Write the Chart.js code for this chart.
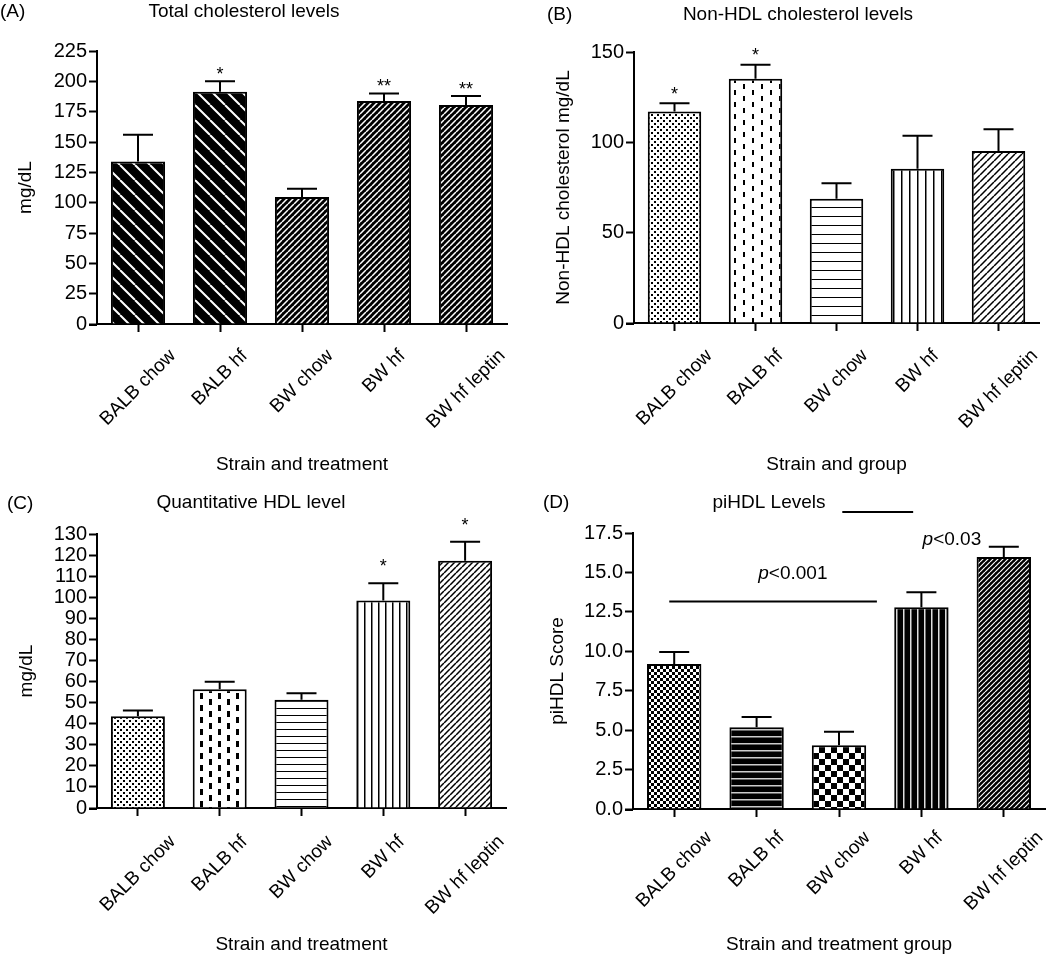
<!DOCTYPE html>
<html>
<head>
<meta charset="utf-8">
<script src="https://cdn.jsdelivr.net/npm/chart.js@4.4.1/dist/chart.umd.min.js"></script>
<style>
body{margin:0;background:#fff;width:1050px;height:955px;overflow:hidden;position:relative}
canvas{position:absolute}
</style>
</head>
<body>
<canvas id="cA" style="left:0;top:0;width:525px;height:477px" width="525" height="477"></canvas>
<canvas id="cB" style="left:525px;top:0;width:525px;height:477px" width="525" height="477"></canvas>
<canvas id="cC" style="left:0;top:477px;width:525px;height:478px" width="525" height="478"></canvas>
<canvas id="cD" style="left:525px;top:477px;width:525px;height:478px" width="525" height="478"></canvas>
<script>
// 4 panneaux : cholesterol total, non-HDL, HDL, piHDL

var groups=["BALB chow","BALB hf","BW chow","BW hf","BW hf leptin"]

var totalChol=[134,191.5,104.7,183.8,180.5]
var totalCholErr=[22,8.5,6.8,6.2,7.5]
var totalCholStars=["","*","","**","**"]

var nonHdl=[117,135.2,68.8,85.4,95.2]
var nonHdlErr=[4.7,7.8,8.5,18.3,12]
var nonHdlStars=["*","*","","",""]

var hdl=[43.5,56.3,51.4,98.5,117.3]
var hdlErr=[2.7,3.6,3.0,8.1,9.0]
var hdlStars=["","","","*","*"]

var piHdl=[9.2,5.18,4.04,12.8,15.98]
var piHdlErr=[0.76,0.66,0.86,0.94,0.65]
var piHdlStars=["","","","",""]

var sigLines=[[-0.06,2.46,13.16],[2.04,2.9,18.83]]   // [de, a, valeur]
var sigTexts=[["<0.001",1.44,14.9],["<0.03",3.37,17.06]]  // [texte, position, valeur]

var FONT="'Liberation Sans', Arial, Helvetica, sans-serif"
Chart.defaults.font.family=FONT
Chart.defaults.color="#000"

// motifs de remplissage
function tile(w,h,draw){
    var c=document.createElement("canvas")
    c.width=w;c.height=h
    var g=c.getContext("2d")
    draw(g,w,h)
    return g.createPattern(c,"repeat")
}
function diag(bg,fg,s,lw,back){
    return tile(s,s,function(g){
        g.fillStyle=bg;g.fillRect(0,0,s,s)
        g.strokeStyle=fg;g.lineWidth=lw;g.beginPath()
        for(var k=-1;k<=1;k++){
            if(back){g.moveTo(k*s,0);g.lineTo(k*s+s,s)}
            else{g.moveTo(k*s,s);g.lineTo(k*s+s,0)}
        }
        g.stroke()
    })
}
function hlines(bg,fg,s,lw){
    return tile(4,s,function(g,w,h){
        g.fillStyle=bg;g.fillRect(0,0,w,h)
        g.fillStyle=fg;g.fillRect(0,0,w,lw)
    })
}
function vlines(bg,fg,s,lw){
    return tile(s,4,function(g,w,h){
        g.fillStyle=bg;g.fillRect(0,0,w,h)
        g.fillStyle=fg;g.fillRect(0,0,lw,h)
    })
}
function dots(){
    return tile(6,6,function(g){
        g.fillStyle="#fff";g.fillRect(0,0,6,6)
        g.fillStyle="#000";g.fillRect(0,0,2,2);g.fillRect(3,3,2,2)
    })
}
function dashes(dw,dh){
    return tile(18,12,function(g){
        g.fillStyle="#fff";g.fillRect(0,0,18,12)
        g.fillStyle="#000";g.fillRect(2,0,dw,dh);g.fillRect(11,6,dw,dh)
    })
}
function checker(s){
    return tile(2*s,2*s,function(g){
        g.fillStyle="#fff";g.fillRect(0,0,2*s,2*s)
        g.fillStyle="#000";g.fillRect(0,0,s,s);g.fillRect(s,s,s,s)
    })
}

var fillsA=[diag("#000","#fff",15,2,true),diag("#000","#fff",15,2,true),diag("#000","#fff",6,1.5,false),diag("#000","#fff",6,1.5,false),diag("#000","#fff",6,1.5,false)]
var fillsB=[dots(),dashes(2,5),hlines("#fff","#000",9,1),vlines("#fff","#000",8,1.5),diag("#fff","#000",7,1.5,false)]
var fillsC=[dots(),dashes(3,6),hlines("#fff","#000",7,1),vlines("#fff","#000",7,1.5),diag("#fff","#000",6,1.5,false)]
var fillsD=[checker(3),hlines("#000","#ccc",7,1.5),checker(6),vlines("#000","#ddd",7,1.5),diag("#000","#fff",5,1.2,false)]

function extras(o){
    return {
        id:"extras",
        afterDatasetsDraw:function(chart){
            var ctx=chart.ctx,ys=chart.scales.y
            var vals=chart.data.datasets[0].data
            ctx.save()
            ctx.strokeStyle="#000";ctx.lineWidth=2
            chart.getDatasetMeta(0).data.forEach(function(bar,i){
                var top=ys.getPixelForValue(vals[i]+o.err[i])
                ctx.beginPath()
                ctx.moveTo(bar.x,bar.y);ctx.lineTo(bar.x,top)
                ctx.moveTo(bar.x-15,top);ctx.lineTo(bar.x+15,top)
                ctx.stroke()
                if(o.stars[i]){
                    ctx.font="18px "+FONT;ctx.textAlign="center";ctx.textBaseline="alphabetic";ctx.fillStyle="#000"
                    ctx.fillText(o.stars[i],bar.x,top-o.starGap+10)
                }
            })
            ctx.restore()
        },
        afterDraw:function(chart){
            var ctx=chart.ctx,xs=chart.scales.x,ys=chart.scales.y,a=chart.chartArea
            ctx.save()
            ctx.fillStyle="#000";ctx.strokeStyle="#000";ctx.lineWidth=2
            // prolongement de l'axe x a gauche
            ctx.beginPath();ctx.moveTo(a.left-8,Math.round(a.bottom)+1);ctx.lineTo(a.left,Math.round(a.bottom)+1);ctx.stroke()
            // etiquettes x a 45 degres
            ctx.font="19px "+FONT
            chart.data.labels.forEach(function(lab,i){
                var x=xs.getPixelForTick(i)
                var w=ctx.measureText(lab).width
                var half=(w+14)*Math.SQRT1_2/2
                ctx.save()
                ctx.translate(x,a.bottom+o.labelGap+half)
                ctx.rotate(-Math.PI/4)
                ctx.textAlign="center";ctx.textBaseline="middle"
                ctx.fillText(lab,0,0)
                ctx.restore()
            })
            // lettre et titre du panneau
            ctx.textBaseline="middle"
            ctx.textAlign="left";ctx.fillText(o.letter,o.letterX,o.letterY)
            ctx.textAlign="center";ctx.fillText(o.title,o.titleX,o.titleY)
            // significativite (panneau D)
            if(o.sig){
                sigLines.forEach(function(l){
                    var y=ys.getPixelForValue(l[2])
                    ctx.beginPath();ctx.moveTo(xs.getPixelForValue(l[0]),y);ctx.lineTo(xs.getPixelForValue(l[1]),y);ctx.stroke()
                })
                sigTexts.forEach(function(t){
                    var cx=xs.getPixelForValue(t[1]),y=ys.getPixelForValue(t[2])
                    ctx.font="italic 19px "+FONT;var wp=ctx.measureText("p").width
                    ctx.font="19px "+FONT;var wr=ctx.measureText(t[0]).width
                    var x0=cx-(wp+wr)/2
                    ctx.textAlign="left"
                    ctx.font="italic 19px "+FONT;ctx.fillText("p",x0,y)
                    ctx.font="19px "+FONT;ctx.fillText(t[0],x0+wp,y)
                })
            }
            ctx.restore()
        }
    }
}

function panel(id,values,fills,o){
    var cv=document.getElementById(id)
    return new Chart(cv,{
        type:"bar",
        data:{
            labels:groups,
            datasets:[{data:values,backgroundColor:fills,borderColor:"#000",borderWidth:2,barPercentage:0.66,categoryPercentage:1}]
        },
        options:{
            responsive:false,
            animation:false,
            events:[],
            layout:{padding:{top:o.area[1],right:cv.width-o.area[2],left:0,bottom:0}},
            plugins:{legend:{display:false},tooltip:{enabled:false}},
            scales:{
                x:{
                    grid:{offset:false,drawOnChartArea:false,tickLength:8,tickWidth:2,tickColor:"#000"},
                    border:{color:"#000",width:2},
                    ticks:{display:false},
                    title:{display:true,text:o.xTitle,color:"#000",font:{size:19,lineHeight:1},padding:{top:0,bottom:o.xTitlePad}},
                    afterFit:function(s){s.height=cv.height-o.area[3]}
                },
                y:{
                    min:0,max:o.max,
                    grid:{drawOnChartArea:false,tickLength:8,tickWidth:2,tickColor:"#000"},
                    border:{color:"#000",width:2},
                    ticks:{stepSize:o.step,autoSkip:false,maxTicksLimit:40,padding:2,color:"#000",font:{size:20,lineHeight:1},
                        callback:function(v){return o.dec?v.toFixed(1):v}},
                    title:{display:true,text:o.yTitle,color:"#000",font:{size:19},padding:{top:o.yTitlePad,bottom:0}},
                    afterFit:function(s){s.width=o.area[0]}
                }
            }
        },
        plugins:[extras(o)]
    })
}

panel("cA",totalChol,fillsA,{area:[97,51,507,324],max:225,step:25,yTitle:"mg/dL",yTitlePad:14.6,xTitle:"Strain and treatment",xTitlePad:2.5,
    err:totalCholErr,stars:totalCholStars,starGap:11,labelGap:24,letter:"(A)",letterX:0,letterY:12,title:"Total cholesterol levels",titleX:244,titleY:12})
panel("cB",nonHdl,fillsB,{area:[109,52,514,323],max:150,step:50,yTitle:"Non-HDL cholesterol mg/dL",yTitlePad:27.6,xTitle:"Strain and group",xTitlePad:2.5,
    err:nonHdlErr,stars:nonHdlStars,starGap:13.5,labelGap:25,letter:"(B)",letterX:22,letterY:15,title:"Non-HDL cholesterol levels",titleX:273,titleY:15})
panel("cC",hdl,fillsC,{area:[97,57,506,331],max:130,step:10,yTitle:"mg/dL",yTitlePad:15.6,xTitle:"Strain and treatment",xTitlePad:0.5,
    err:hdlErr,stars:hdlStars,starGap:21,labelGap:26,letter:"(C)",letterX:7,letterY:27,title:"Quantitative HDL level",titleX:251,titleY:26})
panel("cD",piHdl,fillsD,{area:[108,56,520,332],max:17.5,step:2.5,dec:true,yTitle:"piHDL Score",yTitlePad:21.6,xTitle:"Strain and treatment group",xTitlePad:0.5,
    err:piHdlErr,stars:piHdlStars,starGap:12,labelGap:21,letter:"(D)",letterX:18,letterY:26,title:"piHDL Levels",titleX:244,titleY:26,sig:true})
</script>
</body>
</html>
